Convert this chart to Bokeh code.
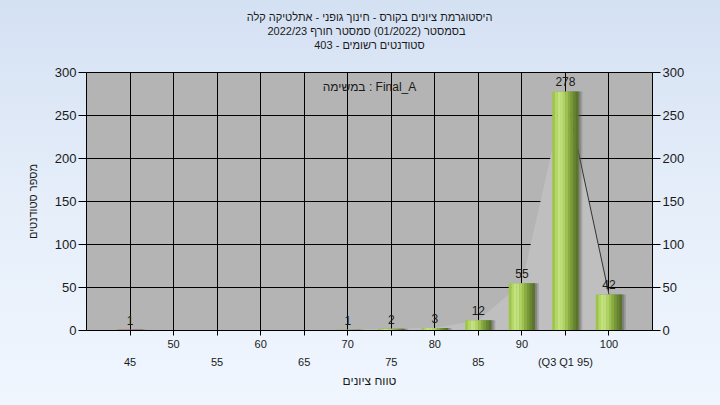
from bokeh.plotting import figure
from bokeh.models import ColumnDataSource, LinearAxis, FixedTicker, Range1d, Label, Title
from bokeh.transform import dodge
from bokeh.embed import file_html
from bokeh.resources import INLINE
from bokeh.core.properties import value

# ---------------- data ----------------
title_lines = [
    "היסטוגרמת ציונים בקורס - חינוך גופני - אתלטיקה קלה",
    "בסמסטר  (01/2022)  סמסטר חורף 2022/23",
    "סטודנטים רשומים - 403",
]
task_label = "במשימה : Final_A"
y_label = "מספר סטודנטים"
x_label = "טווח ציונים"

grades = [45, 50, 55, 60, 65, 70, 75, 80, 85, 90, 95, 100]
counts = [1, 0, 0, 0, 0, 1, 2, 3, 12, 55, 278, 42]

upper_tick_grades = [50, 60, 70, 80, 90, 100]
lower_tick_grades = [45, 55, 65, 75, 85, 95]
lower_tick_labels = ["45", "55", "65", "75", "85", "(Q3 Q1 95)"]
y_ticks = [0, 50, 100, 150, 200, 250, 300]
fail_below = 55

x_start, x_end = 40, 105
y_start, y_end = 0, 300

FONT = "Liberation Sans"
TXT = "#1a1a1a"
BG = "#e3ecf8"

green_shades = ["#9fc44a", "#b4d864", "#c4e27e", "#bfe078", "#b0d363",
                "#9dc24f", "#89ac40", "#779836", "#67852e", "#5a7528"]
red_shades = ["#b8302a", "#d0443a", "#e05a4e", "#d94c42", "#c83c33",
              "#b5322b", "#a02a24", "#8e241f", "#7e1f1b", "#701b18"]

# ---------------- sources ----------------
bar_g = [g for g, c in zip(grades, counts) if c > 0]
bar_c = [c for c in counts if c > 0]
src_data = dict(grade=bar_g, count=bar_c, label=[str(c) for c in bar_c])
n_slices = len(green_shades)
for i in range(n_slices):
    src_data["c%d" % i] = [red_shades[i] if g < fail_below else green_shades[i] for g in bar_g]
src = ColumnDataSource(src_data)

# ---------------- figure ----------------
p = figure(width=720, height=405,
           x_range=Range1d(x_start, x_end), y_range=Range1d(y_start, y_end),
           output_backend="svg", toolbar_location=None,
           min_border_left=86, min_border_right=68,
           min_border_top=72, min_border_bottom=75,
           background_fill_color="#b4b4b4",
           border_fill_color=BG, border_fill_alpha=0.0,
           outline_line_color="black")

xa = p.below[0]
ya = p.left[0]


def style_title(t, standoff=0):
    t.align = "center"
    t.text_font = FONT
    t.text_font_size = "11px"
    t.text_font_style = "normal"
    t.text_color = TXT
    t.standoff = standoff


# blank spacer title between the frame and the title block
spacer = Title(text=" ")
style_title(spacer, 8)
p.add_layout(spacer, "above")

# title: bottom line nearest the frame, top line outermost
t3 = Title(text=title_lines[2])
style_title(t3)
p.add_layout(t3, "above")
t2 = Title(text=title_lines[1])
style_title(t2)
p.add_layout(t2, "above")
p.title.text = title_lines[0]
style_title(p.title)

# grid
p.xgrid.ticker = FixedTicker(ticks=grades)
p.ygrid.ticker = FixedTicker(ticks=y_ticks)
for g in (p.xgrid[0], p.ygrid[0]):
    g.grid_line_color = "black"
    g.grid_line_alpha = 1.0
    g.grid_line_width = 1

# left axis
ya.ticker = FixedTicker(ticks=y_ticks)
ya.axis_label = y_label
ya.axis_label_text_font = FONT
ya.axis_label_text_font_size = "11px"
ya.axis_label_text_font_style = "normal"
ya.axis_label_text_color = TXT
ya.axis_label_standoff = 13
ya.major_label_text_font = FONT
ya.major_label_text_font_size = "13px"
ya.major_label_text_color = TXT
ya.major_label_standoff = 2
ya.major_tick_out = 8
ya.major_tick_in = 0
ya.minor_tick_line_color = None
ya.axis_line_color = "black"
ya.major_tick_line_color = "black"

# right axis
ra = LinearAxis(ticker=FixedTicker(ticks=y_ticks))
ra.major_label_text_font = FONT
ra.major_label_text_font_size = "13px"
ra.major_label_text_color = TXT
ra.major_label_standoff = 2
ra.major_tick_out = 8
ra.major_tick_in = 0
ra.minor_tick_line_color = None
ra.axis_line_color = "black"
ra.major_tick_line_color = "black"
p.add_layout(ra, "right")

# bottom axis (upper row of labels, all ticks)
xa.ticker = FixedTicker(ticks=grades)
xa.major_label_overrides = {g: "" for g in grades if g not in upper_tick_grades}
xa.major_label_text_font = FONT
xa.major_label_text_font_size = "11px"
xa.major_label_text_color = TXT
xa.major_label_standoff = 4
xa.major_tick_out = 5
xa.major_tick_in = 0
xa.minor_tick_line_color = None
xa.axis_line_color = "black"
xa.major_tick_line_color = "black"

# bottom axis (lower row of labels)
xb = LinearAxis(ticker=FixedTicker(ticks=lower_tick_grades))
xb.major_label_overrides = dict(zip(lower_tick_grades, lower_tick_labels))
xb.major_label_text_font = FONT
xb.major_label_text_font_size = "11px"
xb.major_label_text_color = TXT
xb.major_label_standoff = 5
xb.major_tick_out = 0
xb.major_tick_in = 0
xb.minor_tick_line_color = None
xb.axis_line_color = None
xb.major_tick_line_color = None
xb.axis_label = x_label
xb.axis_label_text_font = FONT
xb.axis_label_text_font_size = "12px"
xb.axis_label_text_font_style = "normal"
xb.axis_label_text_color = TXT
xb.axis_label_standoff = 3
p.add_layout(xb, "below")

# frequency polygon area and line
p.varea(x=grades, y1=0, y2=counts, fill_color="#bfbfbf")
p.line(grades[-2:], counts[-2:], line_color="#333333", line_width=1)

# shadows
bar_w = 3.0
p.vbar(x=dodge("grade", 0.45, range=p.x_range), width=bar_w, top="count", bottom=0,
       source=src, fill_color="#5a5a5a", fill_alpha=0.25, line_color=None)
p.vbar(x=dodge("grade", 0.25, range=p.x_range), width=bar_w, top="count", bottom=0,
       source=src, fill_color="#4a4a4a", fill_alpha=0.35, line_color=None)

# bars (cylinder-like shading)
sw = bar_w / n_slices
for i in range(n_slices):
    off = -bar_w / 2 + sw / 2 + i * sw
    p.vbar(x=dodge("grade", off, range=p.x_range), width=sw * 1.08, top="count", bottom=0,
           source=src, fill_color="c%d" % i, line_color=None)

# value labels
p.text(x="grade", y="count", text="label", source=src,
       text_align="center", text_baseline="bottom", y_offset=-5,
       text_font=value(FONT), text_font_size="12px", text_color=TXT)

# task label
p.add_layout(Label(x=(x_start + x_end) / 2, y=y_end, y_offset=-14,
                   text=task_label, text_align="center", text_baseline="middle",
                   text_font=FONT, text_font_size="12px", text_color=TXT))

html = file_html(p, INLINE)
css = ("<style>html { background: linear-gradient(to bottom, #d4e1f3 0%, #e6eefa 50%, "
       "#eff6fe 100%) no-repeat; min-height: 100%; } body { background: transparent; }</style>")
html = html.replace("</head>", css + "</head>", 1)
open("out.html", "w").write(html)
